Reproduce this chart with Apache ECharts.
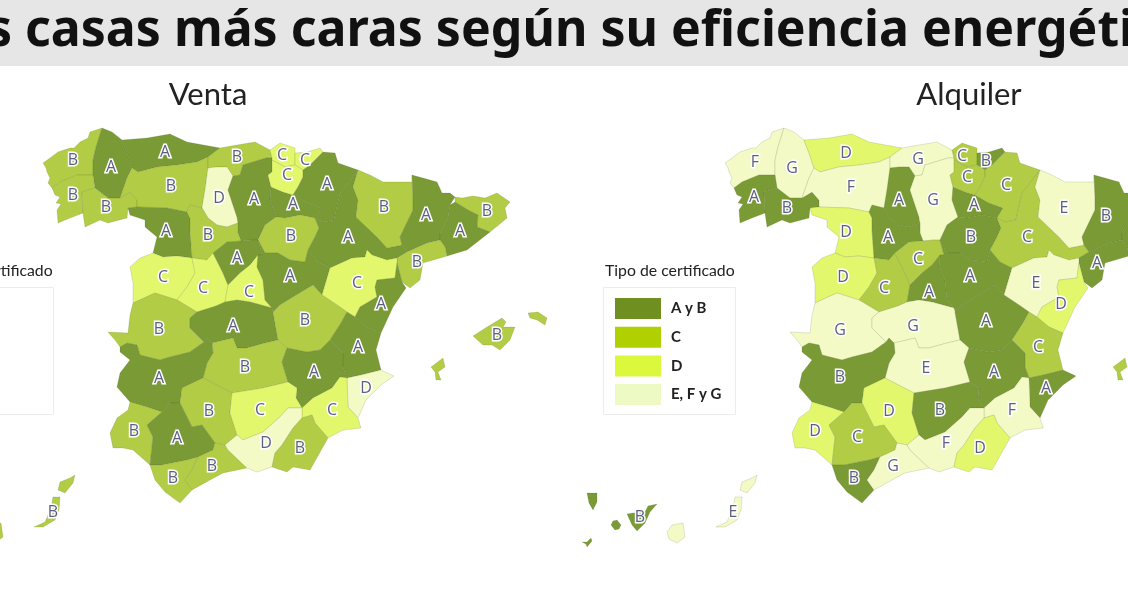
<!DOCTYPE html>
<html>
<head>
<meta charset="utf-8">
<style>html,body{margin:0;padding:0;background:#fff;overflow:hidden}#main{width:1128px;height:591px}</style>
<script src="https://cdn.jsdelivr.net/npm/echarts@6/dist/echarts.min.js"></script>
</head>
<body>
<div id="main"></div>
<script>
var provinces = ['A Coruña','Lugo','Pontevedra','Ourense','Asturias','León','Cantabria','Palencia','Burgos','La Rioja','Bizkaia','Gipuzkoa','Álava','Navarra','Zamora','Valladolid','Soria','Zaragoza','Huesca','Lleida','Girona','Barcelona','Tarragona','Salamanca','Ávila','Segovia','Madrid','Guadalajara','Teruel','Castellón','Cáceres','Toledo','Cuenca','Valencia','Ciudad Real','Albacete','Alicante','Badajoz','Córdoba','Jaén','Murcia','Huelva','Sevilla','Cádiz','Málaga','Granada','Almería','Baleares','Las Palmas','Santa Cruz de Tenerife'];
var ventaGrades = ['B','A','B','B','A','B','B','D','A','A','C','C','C','A','A','B','B','A','B','A','B','A','B','C','C','A','C','A','C','A','B','A','B','A','B','A','D','A','B','C','C','B','A','B','B','D','B','B','B','A'];
var alquilerGrades = ['F','G','A','B','D','F','G','A','G','A','C','B','C','C','D','A','B','C','E','B','A','A','A','D','C','C','A','A','E','D','G','G','A','C','E','A','A','B','D','B','F','D','C','B','G','F','D','C','E','B'];
var ventaLegend = ['A','B','C','D'];
var alquilerLegend = ['A y B','C','D','E, F y G'];
// grado -> tramo de color en cada mapa
var ventaClass = {A:0,B:1,C:2,D:3};
var alquilerClass = {A:0,B:0,C:1,D:2,E:3,F:3,G:3};
var mapColors = ['#7a9a35','#b2cc45','#e2f76c','#f4fac6'];
var legendColors = ['#6f8f20','#b0d000','#dcf83c','#eefac3'];

// contornos de las provincias (base cartografica, en px del mapa de venta)
var shapes = {
'A Coruña':[[[102,128],[96,130],[90,132],[88,138],[80,142],[74,148],[70,148],[58,152],[50,158],[43,163],[46,168],[47,172],[50,178],[48,183],[52,188],[60,182],[77,175],[93,175],[93,160],[96,147]]],
'Lugo':[[[102,128],[112,132],[122,140],[127,153],[132,168],[127,178],[120,198],[108,198],[95,188],[93,175],[93,160],[96,147]]],
'Pontevedra':[[[52,188],[60,182],[77,175],[93,175],[95,188],[82,192],[83,213],[70,218],[58,223],[57,210],[61,204],[56,203],[60,197],[55,195]]],
'Ourense':[[[82,192],[95,188],[108,198],[120,198],[130,192],[137,200],[137,207],[128,208],[127,218],[108,223],[100,220],[85,227],[83,213]]],
'Asturias':[[[122,140],[147,138],[170,134],[187,142],[220,148],[208,157],[197,162],[177,165],[157,167],[138,172],[132,168],[127,153]]],
'León':[[[138,172],[157,167],[177,165],[197,162],[208,157],[208,168],[205,190],[202,208],[190,205],[187,212],[167,208],[137,207],[137,200],[130,192],[120,198],[127,178],[132,168]]],
'Cantabria':[[[220,148],[237,145],[255,142],[270,150],[272,158],[266,158],[243,165],[240,175],[233,176],[227,167],[217,167],[208,168],[208,157]]],
'Palencia':[[[208,168],[217,167],[227,167],[233,176],[228,190],[237,217],[238,223],[227,227],[217,225],[208,218],[202,208],[205,190]]],
'Burgos':[[[243,165],[266,158],[272,158],[272,172],[268,175],[271,187],[270,200],[276,217],[265,225],[258,240],[251,240],[241,241],[238,233],[238,223],[237,217],[228,190],[233,176],[240,175]]],
'La Rioja':[[[271,187],[283,192],[293,195],[307,203],[321,208],[315,218],[300,215],[285,218],[276,217],[270,200]]],
'Bizkaia':[[[270,150],[280,143],[295,148],[295,153],[295,165],[285,167],[272,160],[272,158]]],
'Gipuzkoa':[[[295,153],[307,152],[320,148],[323,152],[310,165],[303,170],[295,165]]],
'Álava':[[[272,160],[285,167],[295,165],[303,170],[303,177],[298,187],[293,195],[283,192],[271,187],[268,175],[272,172]]],
'Navarra':[[[323,152],[335,153],[338,163],[358,170],[340,193],[336,210],[334,220],[323,222],[315,218],[321,208],[307,203],[293,195],[298,187],[303,177],[303,170],[310,165]]],
'Zamora':[[[128,208],[137,207],[167,208],[187,212],[190,218],[190,230],[192,258],[177,256],[163,257],[153,253],[157,237],[145,227],[145,220],[130,215]]],
'Valladolid':[[[187,212],[190,205],[202,208],[208,218],[217,225],[227,227],[238,223],[238,233],[241,241],[227,242],[213,253],[207,260],[192,258],[190,230],[190,218]]],
'Soria':[[[265,225],[276,217],[285,218],[300,215],[315,218],[319,228],[315,237],[308,250],[305,262],[290,260],[278,253],[265,253],[258,240]]],
'Zaragoza':[[[358,170],[353,187],[358,200],[356,217],[377,237],[387,248],[402,245],[407,252],[397,258],[387,260],[372,255],[367,250],[365,257],[352,258],[330,268],[318,262],[308,250],[315,237],[319,228],[315,218],[323,222],[334,220],[336,210],[340,193]]],
'Huesca':[[[358,170],[370,175],[383,182],[412,182],[412,175],[413,197],[413,210],[400,237],[402,245],[387,248],[377,237],[356,217],[358,200],[353,187]]],
'Lleida':[[[412,175],[423,178],[437,182],[442,193],[450,193],[455,197],[450,205],[448,217],[440,233],[440,240],[427,243],[407,252],[402,245],[400,237],[413,210],[413,197]]],
'Girona':[[[455,197],[462,198],[473,196],[485,198],[497,193],[510,202],[505,208],[507,218],[490,232],[477,227],[478,215],[468,210],[455,202]]],
'Barcelona':[[[450,205],[455,202],[468,210],[478,215],[477,227],[490,232],[467,250],[447,256],[445,247],[440,240],[440,233],[448,217]]],
'Tarragona':[[[407,252],[427,243],[440,240],[445,247],[447,256],[423,263],[420,280],[410,288],[402,282],[397,263],[397,258]]],
'Salamanca':[[[130,267],[140,258],[153,253],[163,257],[177,256],[192,258],[195,273],[187,287],[177,300],[155,293],[133,303],[133,283]]],
'Ávila':[[[192,258],[207,260],[213,253],[223,273],[228,285],[225,302],[216,306],[197,312],[177,300],[187,287],[195,273]]],
'Segovia':[[[213,253],[227,242],[241,241],[251,240],[258,240],[262,255],[258,255],[250,265],[240,273],[228,285],[223,273]]],
'Madrid':[[[258,255],[257,267],[263,280],[265,300],[272,308],[250,302],[237,300],[225,302],[228,285],[240,273],[250,265]]],
'Guadalajara':[[[258,240],[265,253],[278,253],[290,260],[305,262],[308,250],[318,262],[330,268],[322,295],[313,285],[293,297],[280,305],[273,312],[272,308],[265,300],[263,280],[257,267],[258,255],[262,255]]],
'Teruel':[[[367,250],[372,255],[387,260],[397,258],[397,263],[395,278],[377,280],[375,287],[377,297],[360,307],[355,317],[347,312],[337,305],[322,295],[330,268],[352,258],[365,257]]],
'Castellón':[[[377,280],[395,278],[397,263],[402,282],[406,288],[393,307],[381,333],[367,327],[355,317],[360,307],[377,297],[375,287]]],
'Cáceres':[[[108,332],[128,333],[130,315],[133,303],[155,293],[177,300],[197,312],[190,318],[190,328],[195,333],[204,342],[190,352],[170,357],[160,360],[140,355],[137,345],[127,343],[120,347],[115,340]]],
'Toledo':[[[197,312],[216,306],[225,302],[237,300],[250,302],[272,308],[273,312],[278,340],[265,343],[247,348],[237,348],[233,338],[212,343],[207,338],[204,342],[195,333],[190,328],[190,318]]],
'Cuenca':[[[313,285],[322,295],[337,305],[347,312],[341,323],[330,340],[320,350],[307,352],[287,348],[278,340],[273,312],[280,305],[293,297]]],
'Valencia':[[[355,317],[367,327],[381,333],[376,350],[381,370],[361,375],[347,378],[343,367],[343,353],[330,340],[341,323],[347,312]]],
'Ciudad Real':[[[212,343],[233,338],[237,348],[247,348],[265,343],[278,340],[287,348],[282,362],[288,382],[263,388],[232,393],[203,378],[207,363],[213,353]]],
'Albacete':[[[287,348],[307,352],[320,350],[330,340],[343,353],[343,367],[347,378],[340,377],[332,388],[313,398],[302,408],[296,398],[297,388],[288,382],[282,362]]],
'Alicante':[[[361,375],[381,370],[394,376],[381,385],[366,400],[358,418],[348,407],[347,378]]],
'Badajoz':[[[120,347],[127,343],[137,345],[140,355],[160,360],[170,357],[190,352],[204,342],[207,338],[212,343],[213,353],[207,363],[203,378],[182,388],[180,403],[170,403],[162,412],[147,407],[130,402],[117,387],[120,373],[130,360],[120,352]]],
'Córdoba':[[[203,378],[232,393],[230,413],[237,435],[225,445],[215,443],[202,425],[192,427],[180,403],[182,388]]],
'Jaén':[[[232,393],[263,388],[288,382],[297,388],[296,398],[302,408],[288,408],[280,417],[263,432],[243,440],[237,435],[230,413]]],
'Murcia':[[[340,377],[347,378],[348,407],[358,418],[361,428],[343,430],[328,438],[315,423],[312,415],[302,418],[302,408],[313,398],[332,388]]],
'Huelva':[[[130,402],[147,407],[162,412],[147,425],[153,437],[150,465],[133,450],[123,448],[113,448],[110,433],[117,418],[128,410]]],
'Sevilla':[[[162,412],[170,403],[180,403],[192,427],[202,425],[215,443],[213,450],[198,457],[187,460],[162,465],[150,465],[153,437],[147,425]]],
'Cádiz':[[[150,465],[162,465],[187,460],[198,457],[192,470],[185,480],[192,490],[180,503],[165,492],[155,480]]],
'Málaga':[[[215,443],[225,445],[228,450],[247,468],[223,473],[210,480],[192,490],[185,480],[192,470],[198,457],[213,450]]],
'Granada':[[[302,408],[302,418],[293,428],[282,445],[275,453],[272,467],[257,472],[247,468],[228,450],[225,445],[237,435],[243,440],[263,432],[280,417],[288,408]]],
'Almería':[[[302,418],[312,415],[315,423],[328,438],[310,470],[293,467],[287,472],[272,467],[275,453],[282,445],[293,428]]],
'Baleares':[[[473,336],[487,327],[502,318],[506,322],[503,327],[515,327],[510,340],[500,350],[492,345],[483,345]],[[528,313],[538,312],[547,318],[545,325],[537,320],[530,318]],[[431,367],[443,358],[445,367],[438,372],[441,380],[436,380],[435,372]]],
'Las Palmas':[[[-15,532],[-10,525],[1,523],[3,537],[-5,543],[-13,539]],[[34,527],[45,522],[51,508],[53,497],[60,497],[59,510],[55,520],[43,527]],[[58,490],[60,482],[70,478],[75,475],[73,483],[65,493]]],
'Santa Cruz de Tenerife':[[[-95,493],[-85,493],[-85,502],[-89,510],[-93,503]],[[-100,542],[-95,542],[-91,538],[-90,541],[-95,547],[-96,544]],[[-71,525],[-69,521],[-65,520],[-61,525],[-63,529],[-67,530]],[[-55,514],[-49,513],[-37,512],[-34,506],[-25,504],[-32,512],[-37,523],[-45,531],[-50,525]]]
};

// donde va la letra de cada provincia en cada mapa
var ventaLabelPos = [[73,160],[111,167],[73,195],[106,207],[165,152],[171,186],[237,157],[219,198],[254,199],[293,204],[282,155],[305,160],[287,175],[327,184],[166,231],[208,235],[291,236],[348,237],[384,207],[426,215],[487,211],[460,231],[417,262],[163,277],[203,288],[237,258],[249,292],[290,276],[357,283],[381,304],[159,329],[233,326],[305,320],[358,347],[245,367],[314,372],[366,388],[159,378],[209,411],[260,410],[332,410],[134,431],[177,438],[173,478],[212,466],[266,443],[300,448],[497,335],[53,512],[-42,517]];
var alquilerLabelPos = [[755,162],[792,168],[754,197],[787,208],[846,153],[851,187],[918,159],[899,200],[933,200],[974,205],[962,156],[986,161],[967,177],[1006,185],[846,232],[888,237],[971,237],[1027,237],[1064,208],[1106,216],[1169,211],[1142,231],[1097,263],[843,277],[884,288],[918,259],[929,292],[970,276],[1036,283],[1061,304],[840,330],[913,326],[986,321],[1038,347],[926,368],[994,372],[1046,388],[840,377],[889,411],[940,410],[1012,410],[815,431],[857,437],[854,478],[893,466],[946,443],[980,448],[1179,335],[733,512],[640,517]];
var mapOffset = 682;

function buildGeo(labelPos, dx) {
	return {
		type: 'FeatureCollection',
		features: provinces.map(function (name, i) {
			return {
				type: 'Feature',
				properties: { name: name, cp: [labelPos[i][0] - dx, -labelPos[i][1]] },
				geometry: {
					type: 'MultiPolygon',
					coordinates: shapes[name].map(function (ring) {
						var r = ring.map(function (p) { return [p[0], -p[1]]; });
						r.push(r[0]);
						return [r];
					})
				}
			};
		})
	};
}
echarts.registerMap('venta', buildGeo(ventaLabelPos, 0));
echarts.registerMap('alquiler', buildGeo(alquilerLabelPos, mapOffset));

var minX = Infinity, maxX = -Infinity, minY = Infinity, maxY = -Infinity;
provinces.forEach(function (name) {
	shapes[name].forEach(function (ring) {
		ring.forEach(function (p) {
			minX = Math.min(minX, p[0]); maxX = Math.max(maxX, p[0]);
			minY = Math.min(minY, p[1]); maxY = Math.max(maxY, p[1]);
		});
	});
});

function mapSeries(mapName, grades, classes, dx) {
	return {
		type: 'map',
		map: mapName,
		silent: true,
		aspectScale: 1,
		left: minX + dx,
		top: minY,
		width: maxX - minX,
		height: maxY - minY,
		label: {
			show: true,
			formatter: function (p) { return p.data.grade; },
			fontFamily: 'Open Sans',
			fontSize: 16,
			color: '#5c5f80',
			textBorderColor: '#fff',
			textBorderWidth: 3
		},
		itemStyle: { borderColor: 'rgba(70,90,30,0.22)', borderWidth: 0.7 },
		data: provinces.map(function (name, i) {
			return {
				name: name,
				value: classes[grades[i]],
				grade: grades[i],
				itemStyle: { areaColor: mapColors[classes[grades[i]]] }
			};
		})
	};
}

function legendGraphic(labels, dx) {
	var g = [{
		type: 'rect',
		shape: { x: 603.5 + dx, y: 287.5, width: 132, height: 127 },
		style: { fill: '#fff', stroke: '#ececec', lineWidth: 1 }
	}, {
		type: 'text',
		x: 605 + dx, y: 271,
		style: { text: 'Tipo de certificado', font: '15.8px Lato', fill: '#222', textVerticalAlign: 'middle' }
	}];
	labels.forEach(function (label, i) {
		var y = 298 + i * 28.7;
		g.push({
			type: 'rect',
			shape: { x: 615 + dx, y: y, width: 46, height: 21 },
			style: { fill: legendColors[i] }
		});
		g.push({
			type: 'text',
			x: 671 + dx, y: y + 10.5,
			style: { text: label, font: 'bold 15px Lato', fill: '#222', textVerticalAlign: 'middle' }
		});
	});
	return g;
}

var chart = echarts.init(document.getElementById('main'), null, { renderer: 'canvas' });
chart.setOption({
	animation: false,
	backgroundColor: '#fff',
	title: [
		{ text: 'Las casas más caras según su eficiencia energética', left: -76, top: 2,
		  textStyle: { fontFamily: 'Noto Sans', fontWeight: 'bold', fontSize: 50, color: '#111' } },
		{ text: 'Venta', left: 203, top: 74, textAlign: 'center',
		  textStyle: { fontFamily: 'Lato', fontWeight: 'normal', fontSize: 31, color: '#222' } },
		{ text: 'Alquiler', left: 964, top: 74, textAlign: 'center',
		  textStyle: { fontFamily: 'Lato', fontWeight: 'normal', fontSize: 31, color: '#222' } }
	],
	graphic: [{
		type: 'rect', z: -1,
		shape: { x: 0, y: 0, width: 1128, height: 66 },
		style: { fill: '#e6e6e6' }
	}].concat(legendGraphic(ventaLegend, -mapOffset), legendGraphic(alquilerLegend, 0)),
	series: [
		mapSeries('venta', ventaGrades, ventaClass, 0),
		mapSeries('alquiler', alquilerGrades, alquilerClass, mapOffset)
	]
});
</script>
</body>
</html>
